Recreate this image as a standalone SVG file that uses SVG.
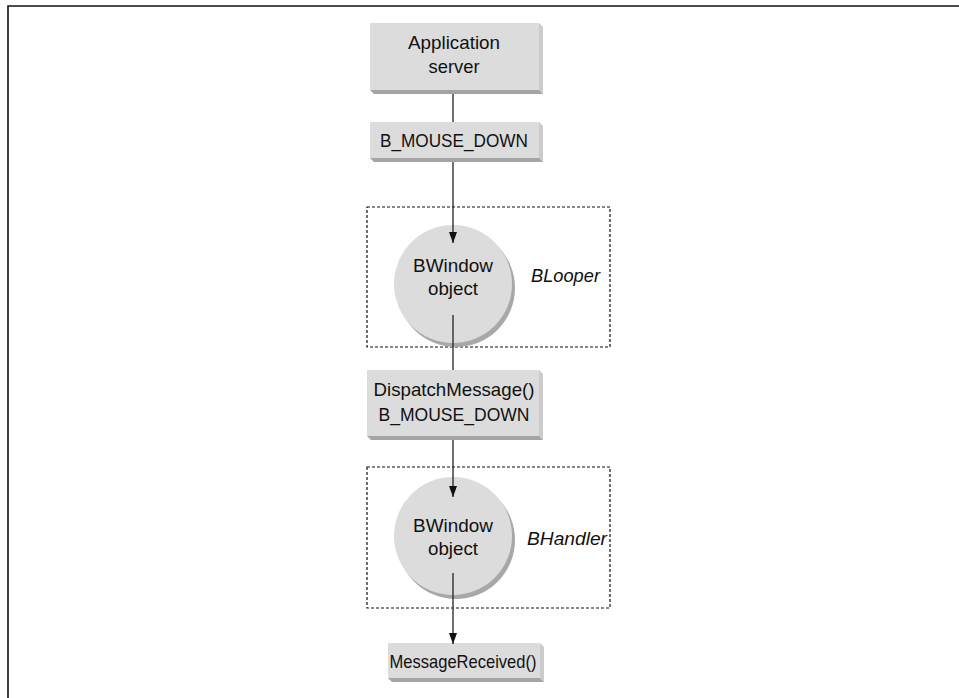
<svg xmlns="http://www.w3.org/2000/svg" width="959" height="698" viewBox="0 0 959 698">
<defs>
<style>
.face{fill:#dcdcdc}
.side{fill:#cbcbcb}
.bot{fill:#a4a4a4}
.shadow{fill:#a8a8a8}
.t{font-family:"Liberation Sans",Arial,sans-serif;font-size:19px;fill:#111;text-anchor:middle}
.it{font-family:"Liberation Sans",Arial,sans-serif;font-size:19px;font-style:italic;fill:#111}
.dash{fill:none;stroke:#111;stroke-width:1.2;stroke-dasharray:3,2}
.ln{stroke:#222;stroke-width:1.3;fill:none}
</style>
<marker id="arr" viewBox="0 0 11 8" refX="11" refY="4" markerWidth="11" markerHeight="8" markerUnits="userSpaceOnUse" orient="auto">
<path d="M0,0 L11,4 L0,8 z" fill="#111"/>
</marker>
</defs>
<rect width="959" height="698" fill="#fff"/>
<path d="M8,698 V6 H959" fill="none" stroke="#111" stroke-width="1.6"/>

<g id="frame-blooper"><rect class="dash" x="367" y="207" width="243" height="140"/><text class="it" x="531" y="282" textLength="69" lengthAdjust="spacingAndGlyphs">BLooper</text></g>
<g id="frame-bhandler"><rect class="dash" x="367" y="467" width="243" height="141"/><text class="it" x="527" y="545" textLength="80" lengthAdjust="spacingAndGlyphs">BHandler</text></g>

<g id="app-server">
<polygon class="side" points="539,23 543,27 543,94 539,90"/>
<polygon class="bot" points="370,90 539,90 543,94 374,94"/>
<rect class="face" x="370" y="23" width="169" height="67"/>
<text class="t" x="454" y="49" textLength="92" lengthAdjust="spacingAndGlyphs">Application</text>
<text class="t" x="454" y="73" textLength="51" lengthAdjust="spacingAndGlyphs">server</text>
</g>

<g id="mouse-down">
<polygon class="side" points="539,122 543,126 543,162 539,158"/>
<polygon class="bot" points="370,158 539,158 543,162 374,162"/>
<rect class="face" x="370" y="122" width="169" height="36"/>
<text class="t" x="454" y="147" textLength="148" lengthAdjust="spacingAndGlyphs">B_MOUSE_DOWN</text>
</g>

<g id="bwindow-1">
<circle class="shadow" cx="456" cy="288" r="59"/>
<circle class="face" cx="453" cy="284" r="59"/>
<text class="t" x="453" y="272" textLength="80" lengthAdjust="spacingAndGlyphs">BWindow</text>
<text class="t" x="453" y="295" textLength="50" lengthAdjust="spacingAndGlyphs">object</text>
</g>

<g id="dispatch">
<polygon class="side" points="539,370 543,374 543,440 539,436"/>
<polygon class="bot" points="367,436 539,436 543,440 371,440"/>
<rect class="face" x="367" y="370" width="172" height="66"/>
<text class="t" x="454" y="396" textLength="161" lengthAdjust="spacingAndGlyphs">DispatchMessage()</text>
<text class="t" x="454" y="421" textLength="151" lengthAdjust="spacingAndGlyphs">B_MOUSE_DOWN</text>
</g>

<g id="bwindow-2">
<circle class="shadow" cx="456" cy="540" r="59"/>
<circle class="face" cx="453" cy="536" r="59"/>
<text class="t" x="453" y="532" textLength="80" lengthAdjust="spacingAndGlyphs">BWindow</text>
<text class="t" x="453" y="555" textLength="50" lengthAdjust="spacingAndGlyphs">object</text>
</g>

<g id="message-received">
<polygon class="side" points="540,643 544,647 544,682 540,678"/>
<polygon class="bot" points="388,678 540,678 544,682 392,682"/>
<rect class="face" x="388" y="643" width="152" height="35"/>
<text class="t" x="463" y="668" textLength="147" lengthAdjust="spacingAndGlyphs">MessageReceived()</text>
</g>

<g id="connectors">
<line class="ln" x1="453" y1="94" x2="453" y2="122"/>
<line class="ln" x1="453" y1="162" x2="453" y2="243" marker-end="url(#arr)"/>
<line class="ln" x1="453" y1="315" x2="453" y2="370"/>
<line class="ln" x1="453" y1="440" x2="453" y2="497" marker-end="url(#arr)"/>
<line class="ln" x1="453" y1="573" x2="453" y2="644" marker-end="url(#arr)"/>
</g>
</svg>
